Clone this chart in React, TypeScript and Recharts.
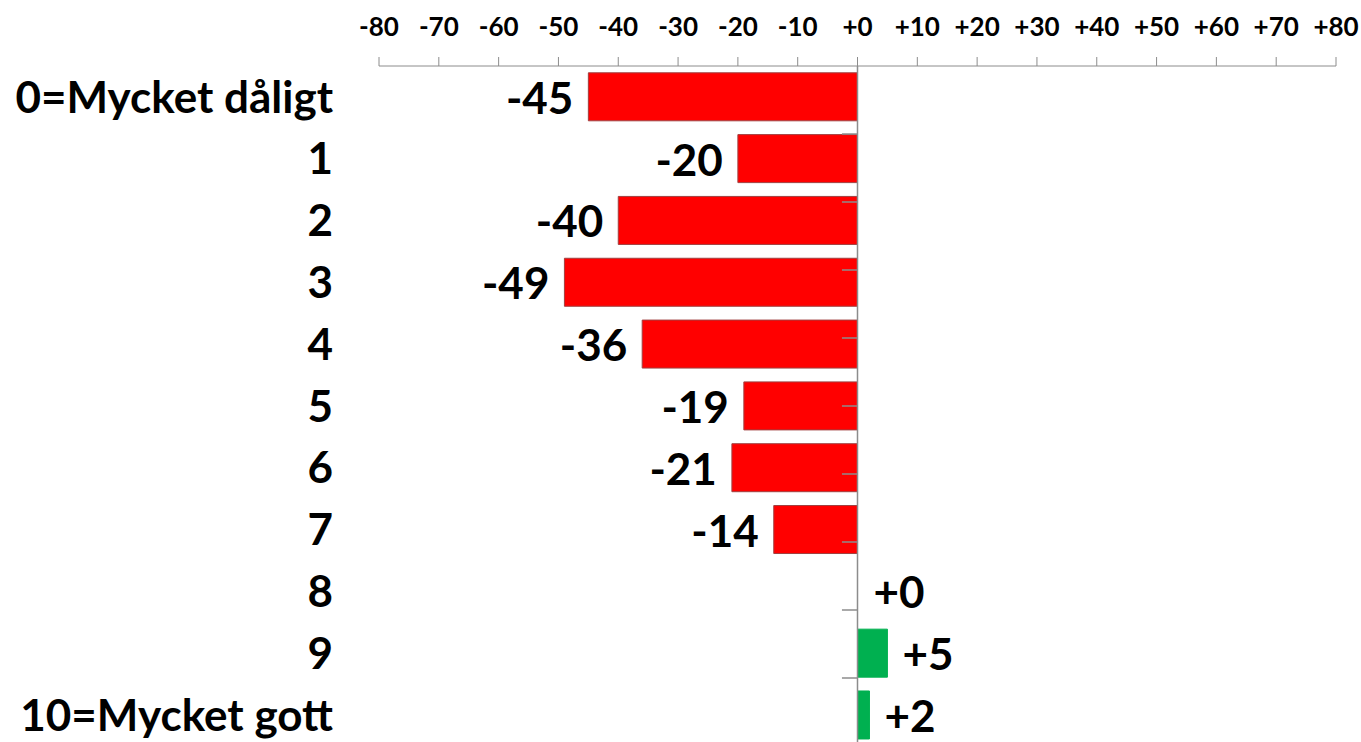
import { BarChart, Bar, XAxis, YAxis, Cell, LabelList, ReferenceLine } from 'recharts';

const categories = [
  '0=Mycket dåligt',
  '1',
  '2',
  '3',
  '4',
  '5',
  '6',
  '7',
  '8',
  '9',
  '10=Mycket gott',
];
const values = [-45, -20, -40, -49, -36, -19, -21, -14, 0, 5, 2];
const xTicks = [-80, -70, -60, -50, -40, -30, -20, -10, 0, 10, 20, 30, 40, 50, 60, 70, 80];

const FONT = 'Lato, "Open Sans", sans-serif';
const AXIS_GREY = '#8c8c8c';

const data = categories.map((name, i) => ({ name, value: values[i] }));
// category band edges (between rows), drawn as short ticks on the zero line
const boundaries = categories.slice(1).map((_, i) => i + 1);

const fmt = (v: number) => (v >= 0 ? `+${v}` : `${v}`);

const barFill = (v: number) => (v < 0 ? '#FF0000' : v > 0 ? '#00B050' : 'none');
const barStroke = (v: number) => (v < 0 ? '#a04040' : v > 0 ? '#00B050' : 'none');

const ValueLabel = (props: any) => {
  const { x, y, width, height, value } = props;
  const left = Math.min(x, x + width);
  const right = Math.max(x, x + width);
  const neg = value < 0;
  return (
    <text
      x={neg ? left - 15 : value === 0 ? left + 16 : right + 15}
      y={y + height / 2}
      textAnchor={neg ? 'end' : 'start'}
      dominantBaseline="central"
      fontFamily={FONT}
      fontWeight={700}
      fontSize={44}
      fill="#000"
    >
      {fmt(value)}
    </text>
  );
};

export default function App() {
  return (
    <div style={{ position: 'absolute', left: 0, top: 0, width: 1361, height: 742, overflow: 'hidden', background: '#fff' }}>
      <BarChart
        width={1361}
        height={746}
        data={data}
        layout="vertical"
        margin={{ top: 0, right: 25, left: 0, bottom: 0 }}
        barCategoryGap="11%"
      >
        <XAxis
          type="number"
          orientation="top"
          domain={[-80, 80]}
          ticks={xTicks}
          tickFormatter={fmt}
          height={66}
          stroke={AXIS_GREY}
          tickSize={9}
          tickMargin={21}
          tick={{ fill: '#000', fontFamily: FONT, fontWeight: 700, fontSize: 26 }}
          interval={0}
        />
        <YAxis
          type="category"
          dataKey="name"
          width={379}
          axisLine={false}
          tickLine={false}
          tickSize={0}
          tickMargin={46}
          interval={0}
          tick={{ fill: '#000', fontFamily: FONT, fontWeight: 700, fontSize: 44 }}
        />
        <YAxis yAxisId="grid" type="number" domain={[0, categories.length]} allowDataOverflow hide />
        {/* minPointSize keeps the zero row so its "+0" label is drawn */}
        <Bar dataKey="value" minPointSize={1} isAnimationActive={false}>
          {data.map((d, i) => (
            <Cell key={i} fill={barFill(d.value)} stroke={barStroke(d.value)} strokeWidth={1} />
          ))}
          <LabelList dataKey="value" content={ValueLabel} />
        </Bar>
        <ReferenceLine x={0} stroke={AXIS_GREY} strokeWidth={1.5} />
        {boundaries.map((b) => (
          <ReferenceLine
            key={b}
            yAxisId="grid"
            segment={[{ x: -2.6, y: b }, { x: 0, y: b }]}
            stroke={AXIS_GREY}
            strokeWidth={1.5}
          />
        ))}
      </BarChart>
    </div>
  );
}
